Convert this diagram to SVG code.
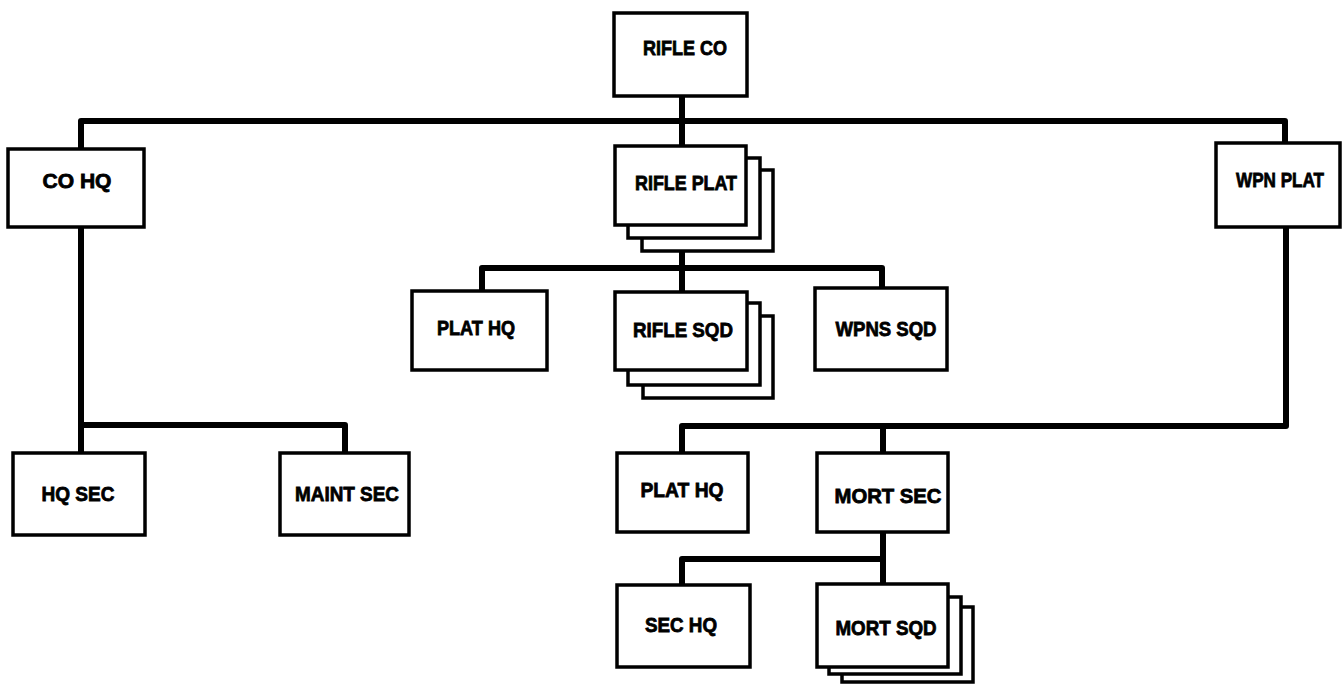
<svg xmlns="http://www.w3.org/2000/svg" width="1344" height="684" viewBox="0 0 1344 684">
<style>
.box{fill:#fff;stroke:#000;stroke-width:3.5}
.ln{fill:none;stroke:#000;stroke-width:6;stroke-linejoin:round;stroke-linecap:butt}
text{font-family:"Liberation Sans",Arial,sans-serif;font-weight:bold;font-size:21px;fill:#000;stroke:#000;stroke-width:0.8;text-anchor:middle}
</style>
<rect width="1344" height="684" fill="#fff"/>
<g id="connectors">
<path class="ln" d="M682,96 V146"/>
<path class="ln" d="M81,149 V121 H1285 V143"/>
<path class="ln" d="M682,251 V292"/>
<path class="ln" d="M482,291 V268 H882 V288"/>
<path class="ln" d="M81,227 V453"/>
<path class="ln" d="M81,425 H345 V453"/>
<path class="ln" d="M1286,227 V426 H682 V453"/>
<path class="ln" d="M883,426 V453"/>
<path class="ln" d="M883,532 V584"/>
<path class="ln" d="M682,585 V559 H883"/>
</g>
<g id="rifle-co"><rect class="box" x="614" y="13" width="133" height="83"/><text x="685" y="55" textLength="84" lengthAdjust="spacingAndGlyphs">RIFLE CO</text></g>
<g id="co-hq"><rect class="box" x="8" y="149" width="136" height="78"/><text x="77" y="188" textLength="69" lengthAdjust="spacingAndGlyphs">CO HQ</text></g>
<g id="rifle-plat">
<rect class="box" x="642" y="170" width="131" height="81"/>
<rect class="box" x="628" y="158" width="132" height="80"/>
<rect class="box" x="615" y="146" width="131" height="79"/>
<text x="686" y="190" textLength="102" lengthAdjust="spacingAndGlyphs">RIFLE PLAT</text></g>
<g id="wpn-plat"><rect class="box" x="1216" y="143" width="124" height="84"/><text x="1280" y="187" font-size="20" textLength="88" lengthAdjust="spacingAndGlyphs">WPN PLAT</text></g>
<g id="plat-hq-1"><rect class="box" x="412" y="291" width="135" height="79"/><text x="476" y="335" textLength="78" lengthAdjust="spacingAndGlyphs">PLAT HQ</text></g>
<g id="rifle-sqd">
<rect class="box" x="643" y="316" width="130" height="82"/>
<rect class="box" x="628" y="303" width="132" height="82"/>
<rect class="box" x="615" y="292" width="132" height="78"/>
<text x="683" y="337" textLength="100" lengthAdjust="spacingAndGlyphs">RIFLE SQD</text></g>
<g id="wpns-sqd"><rect class="box" x="815" y="288" width="132" height="82"/><text x="886" y="336" textLength="101" lengthAdjust="spacingAndGlyphs">WPNS SQD</text></g>
<g id="hq-sec"><rect class="box" x="13" y="453" width="132" height="82"/><text x="78" y="501" textLength="73" lengthAdjust="spacingAndGlyphs">HQ SEC</text></g>
<g id="maint-sec"><rect class="box" x="280" y="453" width="129" height="82"/><text x="347" y="501" textLength="104" lengthAdjust="spacingAndGlyphs">MAINT SEC</text></g>
<g id="plat-hq-2"><rect class="box" x="617" y="453" width="131" height="79"/><text x="682" y="497" textLength="83" lengthAdjust="spacingAndGlyphs">PLAT HQ</text></g>
<g id="mort-sec"><rect class="box" x="817" y="453" width="131" height="79"/><text x="888" y="503" textLength="107" lengthAdjust="spacingAndGlyphs">MORT SEC</text></g>
<g id="sec-hq"><rect class="box" x="617" y="585" width="133" height="82"/><text x="681" y="632" textLength="72" lengthAdjust="spacingAndGlyphs">SEC HQ</text></g>
<g id="mort-sqd">
<rect class="box" x="842" y="607" width="131" height="75"/>
<rect class="box" x="829" y="597" width="132" height="77"/>
<rect class="box" x="817" y="584" width="131" height="83"/>
<text x="886" y="635" textLength="101" lengthAdjust="spacingAndGlyphs">MORT SQD</text></g>
</svg>
